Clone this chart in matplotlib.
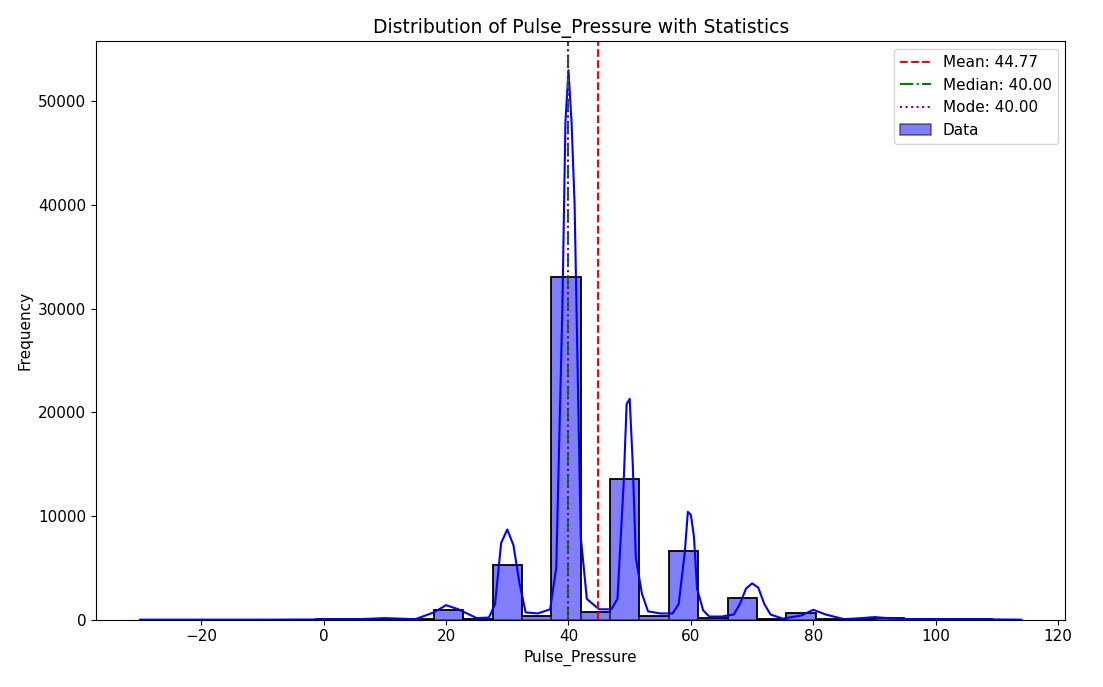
import numpy as np
import matplotlib.pyplot as plt

# histogram: 30 bins from -30 to 114
bin_start = -30.0
bin_end = 114.0
counts = [10, 10, 10, 10, 10, 10, 20, 30, 60, 40,
          900, 100, 5300, 400, 33100, 700, 13600, 400, 6600, 200,
          2100, 100, 600, 80, 60, 150, 40, 30, 20, 10]

# KDE curve
kde_x = [-30, -10, 0, 5, 10, 15, 18, 20, 22, 25, 27, 28, 29, 30, 31, 32, 33, 35, 37, 38,
         39, 39.5, 40, 40.5, 41, 42, 43, 45, 47, 48, 49, 49.5, 50, 50.5, 51, 52, 53, 55,
         57, 58, 59, 59.5, 60, 60.5, 61, 62, 63, 65, 67, 68, 69, 70, 71, 72, 73, 75, 78,
         80, 82, 85, 88, 90, 92, 95, 100, 110, 114]
kde_y = [0, 0, 20, 30, 150, 50, 700, 1400, 1000, 150, 200, 1500, 7400, 8700, 7200, 3500,
         700, 600, 1000, 5000, 30000, 48000, 53000, 48000, 40000, 8000, 2000, 1000, 1000,
         2000, 13000, 20800, 21300, 15000, 6000, 2500, 800, 600, 600, 1500, 6500, 10400,
         10100, 8000, 3000, 900, 300, 300, 500, 1500, 3000, 3500, 3100, 1500, 500, 100,
         400, 950, 500, 50, 150, 250, 150, 50, 50, 20, 0]

mean_val = 44.77
median_val = 40.00
mode_val = 40.00

fig, ax = plt.subplots(figsize=(11.03, 6.87), dpi=100)
edges = np.linspace(bin_start, bin_end, len(counts) + 1)
ax.hist(edges[:-1], bins=edges, weights=counts, color='blue', alpha=0.5,
        edgecolor='black', linewidth=1.2, label='Data')
ax.hist(edges[:-1], bins=edges, weights=counts, histtype='step',
        edgecolor='black', linewidth=1.2)
ax.plot(kde_x, kde_y, color='blue', linewidth=1.5)

ax.axvline(mean_val, color='red', linestyle='--', linewidth=1.5, label=f'Mean: {mean_val:.2f}')
ax.axvline(median_val, color='green', linestyle='-.', linewidth=1.5, label=f'Median: {median_val:.2f}')
ax.axvline(mode_val, color='purple', linestyle=':', linewidth=1.5, label=f'Mode: {mode_val:.2f}')

ax.set_xlim(-37.2, 121.2)
ax.set_ylim(0, 55800)
ax.set_title('Distribution of Pulse_Pressure with Statistics', fontsize=13.5)
ax.set_xlabel('Pulse_Pressure', fontsize=11)
ax.set_ylabel('Frequency', fontsize=11)
ax.tick_params(labelsize=11)

h, l = ax.get_legend_handles_labels()
order = [l.index(s) for s in l if s != 'Data'] + [l.index('Data')]
ax.legend([h[i] for i in order], [l[i] for i in order], loc='upper right', fontsize=11)

plt.subplots_adjust(left=0.087, right=0.966, top=0.94, bottom=0.098)
plt.savefig('out.png', dpi=100)
